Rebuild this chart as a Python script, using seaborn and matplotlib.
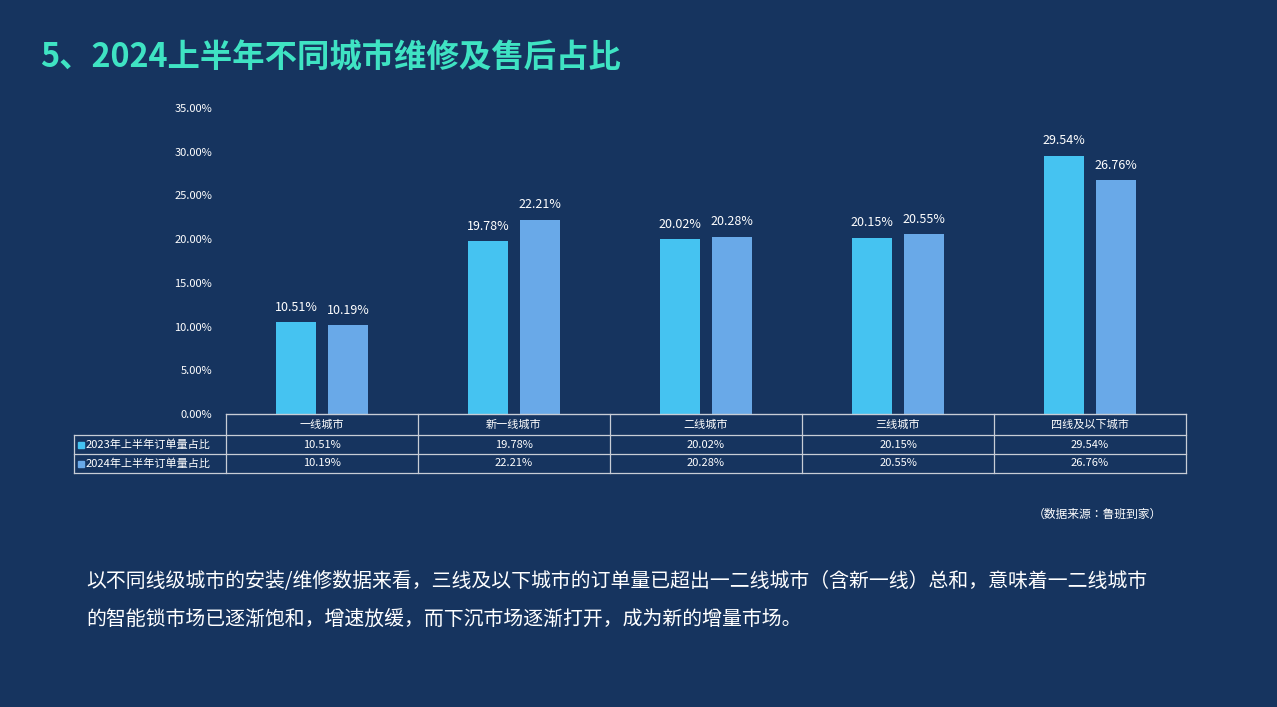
import matplotlib.pyplot as plt
import seaborn as sns
import pandas as pd
from matplotlib import font_manager
from matplotlib.lines import Line2D
from matplotlib.patches import Rectangle

# pick an installed sans CJK font
cjk = sorted({f.name for f in font_manager.fontManager.ttflist if 'Sans CJK' in f.name})
cjk_name = 'Noto Sans CJK SC' if 'Noto Sans CJK SC' in cjk else (cjk[0] if cjk else 'DejaVu Sans')
plt.rcParams['font.family'] = 'sans-serif'
plt.rcParams['font.sans-serif'] = [cjk_name, 'DejaVu Sans']
plt.rcParams['axes.unicode_minus'] = False

# data
cities = ['一线城市', '新一线城市', '二线城市', '三线城市', '四线及以下城市']
series = ['2023年上半年订单量占比', '2024年上半年订单量占比']
values_2023 = [10.51, 19.78, 20.02, 20.15, 29.54]
values_2024 = [10.19, 22.21, 20.28, 20.55, 26.76]
colors = ['#45c3f1', '#69a9e8']
bg = '#16345f'

df = pd.DataFrame({
    'city': cities * 2,
    'series': [series[0]] * 5 + [series[1]] * 5,
    'value': values_2023 + values_2024,
})

W, H = 1277, 707
fig = plt.figure(figsize=(W / 100, H / 100), dpi=100, facecolor=bg)

def fx(px):
    return px / W

def fy(py):
    return 1 - py / H

ax = fig.add_axes([fx(226), fy(414), fx(1186) - fx(226), fy(108) - fy(414)])
ax.set_facecolor(bg)
sns.barplot(data=df, x='city', y='value', hue='series', palette=colors,
            width=0.54, gap=0.23, ax=ax, legend=False, saturation=1)
ax.set_xlim(-0.5, 4.5)
ax.set_ylim(0, 35)
ax.set_yticks(range(0, 36, 5))
ax.set_yticklabels([f'{v:.2f}%' for v in range(0, 36, 5)], color='white', fontsize=8)
ax.tick_params(axis='y', length=0, pad=10)
ax.set_xticks([])
ax.set_xlabel('')
ax.set_ylabel('')
for s in ['top', 'right', 'left']:
    ax.spines[s].set_visible(False)
ax.spines['bottom'].set_color('#d0d0d0')

for cont in ax.containers:
    ax.bar_label(cont, labels=[f'{v:.2f}%' for v in cont.datavalues],
                 color='white', fontsize=9, padding=6)

# title
fig.text(fx(40), fy(58), '5、2024上半年不同城市维修及售后占比', color='#3fe3c3',
         fontsize=23.3, fontweight='bold', va='center')

# data table
lc = '#c8cdd6'
col_x = [226 + 192 * i for i in range(6)]
row_y = [414, 435, 454, 473]
lines = []
for y in row_y:
    x0 = 226 if y == 414 else 74
    lines.append(Line2D([fx(x0), fx(1186)], [fy(y), fy(y)]))
for x in col_x:
    lines.append(Line2D([fx(x), fx(x)], [fy(414), fy(473)]))
lines.append(Line2D([fx(74), fx(74)], [fy(435), fy(473)]))
for ln in lines:
    ln.set_color(lc)
    ln.set_linewidth(0.9)
    fig.add_artist(ln)

for i, c in enumerate(cities):
    fig.text(fx(col_x[i] + 96), fy(424.5), c, color='white', fontsize=8,
             ha='center', va='center')
for r, (vals, name) in enumerate([(values_2023, series[0]), (values_2024, series[1])]):
    yc = (row_y[r + 1] + row_y[r + 2]) / 2
    fig.add_artist(Rectangle((fx(78), fy(yc + 3)), fx(6), fy(0) - fy(6),
                             color=colors[r], transform=fig.transFigure))
    fig.text(fx(86), fy(yc), name, color='white', fontsize=8, va='center')
    for i, v in enumerate(vals):
        fig.text(fx(col_x[i] + 96), fy(yc), f'{v:.2f}%', color='white',
                 fontsize=8, ha='center', va='center')

fig.text(fx(1162), fy(514), '（数据来源：鲁班到家）', color='white', fontsize=8.5,
         ha='right', va='center')

para = dict(color='white', fontsize=14.3, va='center')
fig.text(fx(86), fy(581), '以不同线级城市的安装/维修数据来看，三线及以下城市的订单量已超出一二线城市（含新一线）总和，意味着一二线城市', **para)
fig.text(fx(86), fy(619), '的智能锁市场已逐渐饱和，增速放缓，而下沉市场逐渐打开，成为新的增量市场。', **para)

fig.savefig('out.png', dpi=100, facecolor=bg)
